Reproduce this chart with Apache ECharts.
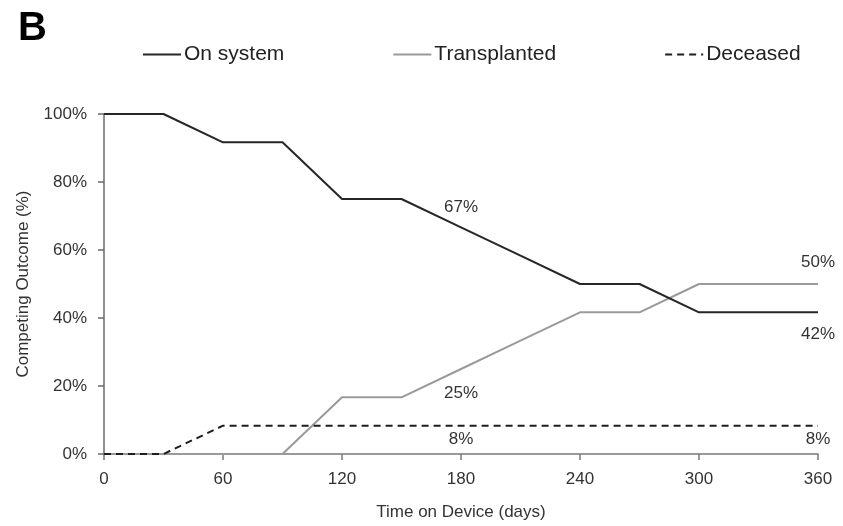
<!DOCTYPE html>
<html>
<head>
<meta charset="utf-8">
<script src="https://cdn.jsdelivr.net/npm/echarts@6/dist/echarts.min.js"></script>
<style>
  html, body { margin: 0; padding: 0; background: #fff; }
  #chart { width: 843px; height: 526px; }
</style>
</head>
<body>
<div id="chart"></div>
<script>
// Follow-up time points (days on device)
const days = [0, 30, 60, 90, 120, 150, 180, 210, 240, 270, 300, 330, 360];

// Competing outcome percentages at each time point
const onSystem     = [100, 100, 91.67, 91.67, 75, 75, 66.67, 58.33, 50, 50, 41.67, 41.67, 41.67];
const transplanted = [0, 0, 0, 0, 16.67, 16.67, 25, 33.33, 41.67, 41.67, 50, 50, 50];
const deceased     = [0, 0, 8.33, 8.33, 8.33, 8.33, 8.33, 8.33, 8.33, 8.33, 8.33, 8.33, 8.33];

// Days where a value label is printed, and where it sits for each series
const labelDays = [180, 360];
const labelPlacement = {
  'On system':    { 180: ['top', 12],    360: ['bottom', 13] },
  'Transplanted': { 180: ['bottom', 16], 360: ['top', 13] },
  'Deceased':     { 180: ['bottom', 5],  360: ['bottom', 5] }
};

const yTicks = [0, 20, 40, 60, 80, 100];
const xTicks = [0, 60, 120, 180, 240, 300, 360];

const FONT = '"Liberation Sans", Arial, sans-serif';
const TEXT = '#333333';

function lineData(values) {
  return days.map((d, i) => [d, values[i]]);
}

// Value labels placed on the series' own points at the chosen days
function valueLabels(name, values) {
  return {
    symbol: 'circle',
    symbolSize: 0,
    itemStyle: { color: 'rgba(0,0,0,0)' },
    silent: true,
    data: labelDays.map(d => {
      const i = days.indexOf(d);
      const [pos, dist] = labelPlacement[name][d];
      return {
        coord: [d, values[i]],
        value: values[i],
        label: {
          show: true,
          position: pos,
          distance: dist,
          formatter: p => Math.round(p.value) + '%',
          fontFamily: FONT,
          fontSize: 17,
          color: TEXT
        }
      };
    })
  };
}

const chart = echarts.init(document.getElementById('chart'), null, { renderer: 'canvas' });

chart.setOption({
  backgroundColor: '#ffffff',
  animation: false,
  title: {
    text: 'B',
    left: 13,
    top: 4,
    textStyle: { fontFamily: FONT, fontSize: 40, fontWeight: 'bold', color: '#000' }
  },
  legend: {
    left: 137,
    top: 39,
    itemWidth: 38,
    itemHeight: 14,
    itemGap: 108,
    itemStyle: { opacity: 0 },
    textStyle: { fontFamily: FONT, fontSize: 21, color: '#222', padding: [0, 0, 0, -2] },
    data: ['On system', 'Transplanted', 'Deceased']
  },
  grid: { left: 104, right: 25, top: 114, bottom: 72, containLabel: false },
  xAxis: {
    type: 'value',
    min: xTicks[0],
    max: xTicks[xTicks.length - 1],
    interval: 60,
    name: 'Time on Device (days)',
    nameLocation: 'middle',
    nameGap: 50,
    nameTextStyle: { fontFamily: FONT, fontSize: 17, color: TEXT },
    axisLine: { show: true, lineStyle: { color: '#7a7a7a', width: 1.5 } },
    axisTick: { show: true, inside: false, length: 6, lineStyle: { color: '#7a7a7a', width: 1.5 } },
    axisLabel: { fontFamily: FONT, fontSize: 17, color: TEXT, margin: 17 },
    splitLine: { show: false }
  },
  yAxis: {
    type: 'value',
    min: yTicks[0],
    max: yTicks[yTicks.length - 1],
    interval: 20,
    name: 'Competing Outcome (%)',
    nameLocation: 'middle',
    nameGap: 72,
    nameTextStyle: { fontFamily: FONT, fontSize: 17, color: TEXT },
    axisLine: { show: true, lineStyle: { color: '#6a6a6a', width: 1.5 } },
    axisTick: { show: true, inside: false, length: 6, lineStyle: { color: '#6a6a6a', width: 1.5 } },
    axisLabel: { fontFamily: FONT, fontSize: 17, color: TEXT, margin: 17, formatter: '{value}%' },
    splitLine: { show: false }
  },
  series: [
    {
      name: 'On system',
      type: 'line',
      symbol: 'none',
      color: '#262626',
      lineStyle: { color: '#262626', width: 2 },
      data: lineData(onSystem),
      markPoint: valueLabels('On system', onSystem),
      z: 3
    },
    {
      name: 'Transplanted',
      type: 'line',
      symbol: 'none',
      color: '#9a9a9a',
      lineStyle: { color: '#9a9a9a', width: 2 },
      data: lineData(transplanted),
      markPoint: valueLabels('Transplanted', transplanted),
      z: 2
    },
    {
      name: 'Deceased',
      type: 'line',
      symbol: 'none',
      color: '#1e1e1e',
      lineStyle: { color: '#1e1e1e', width: 2, type: [7, 5] },
      data: lineData(deceased),
      markPoint: valueLabels('Deceased', deceased),
      z: 2
    }
  ]
});
</script>
</body>
</html>
